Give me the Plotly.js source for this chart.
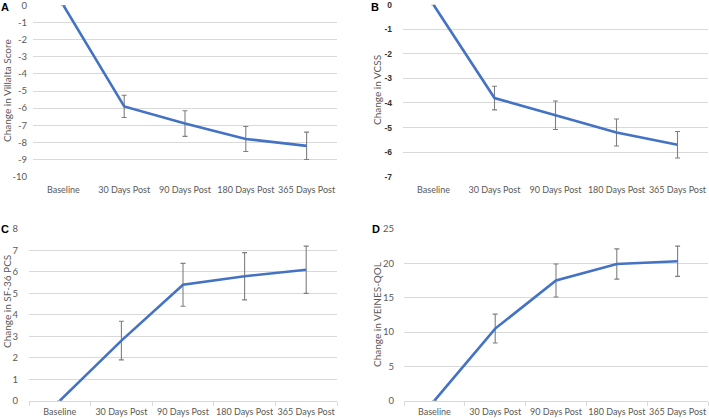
<!DOCTYPE html>
<html>
<head>
<meta charset="utf-8">
<script src="https://cdn.plot.ly/plotly-3.0.1.min.js"></script>
<style>html,body{margin:0;padding:0;background:#fff;}#chart{width:709px;height:418px;}</style>
</head>
<body>
<div id="chart"></div>
<script>
const categories = ["Baseline", "30 Days Post", "90 Days Post", "180 Days Post", "365 Days Post"];

const villaltaValues = [0, -5.9, -6.9, -7.8, -8.2];
const villaltaErrors = [0, 0.65, 0.75, 0.73, 0.8];
const villaltaTicks = [0, -1, -2, -3, -4, -5, -6, -7, -8, -9, -10];
const villaltaTickText = ["0", "-1", "-2", "-3", "-4", "-5", "-6", "-7", "-8", "-9", "-10"];

const vcssValues = [0, -3.8, -4.5, -5.2, -5.7];
const vcssErrors = [0, 0.48, 0.58, 0.55, 0.54];
const vcssTicks = [0, -1, -2, -3, -4, -5, -6, -7];
const vcssTickText = ["0", "-1", "-2", "-3", "-4", "-5", "-6", "-7"];

const sf36Values = [0, 2.8, 5.4, 5.8, 6.1];
const sf36Errors = [0, 0.9, 1.0, 1.1, 1.1];
const sf36Ticks = [0, 1, 2, 3, 4, 5, 6, 7, 8];

const veinesValues = [0, 10.5, 17.5, 19.9, 20.3];
const veinesErrors = [0, 2.1, 2.4, 2.2, 2.2];
const veinesTicks = [0, 5, 10, 15, 20, 25];

const W = 709, H = 418;
const px = v => v / W;
const py = v => 1 - v / H;

const FONT = "Lato, 'Open Sans', sans-serif";
const TICKCOL = "#595959";
const GRID = "#d9d9d9";
const LINE = "#4472C4";

function trace(vals, errs, xa, ya) {
  return {
    x: categories, y: vals, xaxis: xa, yaxis: ya,
    type: "scatter", mode: "lines",
    line: {color: LINE, width: 2.6},
    cliponaxis: false,
    error_y: {type: "data", array: errs, visible: true, color: "#7f7f7f", thickness: 1.1, width: 2.5},
    hoverinfo: "skip", showlegend: false
  };
}

const data = [
  trace(villaltaValues, villaltaErrors, "x", "y"),
  trace(vcssValues, vcssErrors, "x2", "y2"),
  trace(sf36Values, sf36Errors, "x3", "y3"),
  trace(veinesValues, veinesErrors, "x4", "y4")
];

function xax(l, r, anchor, showline) {
  return {
    domain: [px(l), px(r)], anchor: anchor, type: "category",
    range: [-0.5, 4.5], showgrid: false, zeroline: false,
    showline: showline, linecolor: GRID, linewidth: 1,
    ticks: showline ? "outside" : "", tickson: "boundaries", ticklen: 4, tickcolor: GRID,
    tickangle: 0, automargin: false, ticklabeloverflow: "allow",
    tickfont: {family: FONT, size: 9, color: TICKCOL},
    ticklabelstandoff: showline ? 2 : 6, fixedrange: true
  };
}
function yax(top, bot, range, vals, text, anchor, standoff, bold) {
  return {
    domain: [py(bot), py(top)], anchor: anchor, range: range,
    tickmode: "array", tickvals: vals, ticktext: text || vals.map(String),
    showgrid: true, gridcolor: GRID, gridwidth: 1, zeroline: false, showline: false,
    automargin: false, ticklabeloverflow: "allow",
    ticks: "", tickfont: {family: bold ? "Liberation Sans, Arial, sans-serif" : FONT, size: bold ? 8.5 : 9.5, color: bold ? "#333" : TICKCOL, weight: bold ? "bold" : "normal"},
    ticklabelstandoff: standoff, fixedrange: true
  };
}

function topAxis(l, r, anchor, over) {
  return {domain: [px(l), px(r)], anchor: anchor, overlaying: over, side: "top", type: "category", range: [-0.5, 4.5],
    showgrid: false, zeroline: false, showline: true, linecolor: GRID, ticks: "outside", tickson: "boundaries",
    ticklen: 3, tickcolor: GRID, showticklabels: false, fixedrange: true};
}

const letterFont = {family: "Liberation Sans, Arial, sans-serif", size: 11, color: "#000"};
const titleFont = {family: FONT, size: 10, color: TICKCOL};

function ann(text, x, y, font, angle) {
  return {text: text, x: px(x), y: py(y), xref: "paper", yref: "paper", xanchor: "center", yanchor: "middle",
    showarrow: false, textangle: angle || 0, font: font};
}

const layout = {
  width: W, height: H,
  margin: {l: 0, r: 0, t: 0, b: 0},
  paper_bgcolor: "#fff", plot_bgcolor: "#fff",
  showlegend: false,
  xaxis: xax(33, 337, "y", false),
  yaxis: yax(5.3, 176.7, [-10, 0], villaltaTicks, villaltaTickText, "x", 5, false),
  xaxis2: xax(403, 708, "y2", false),
  yaxis2: yax(4.7, 176.7, [-7, 0], vcssTicks, vcssTickText, "x2", 10, true),
  xaxis3: xax(29, 337, "y3", true),
  yaxis3: yax(229, 400.7, [0, 8], sf36Ticks, null, "x3", 10, false),
  xaxis4: xax(404, 708, "y4", true),
  yaxis4: yax(229, 400.7, [0, 25], veinesTicks, null, "x4", 9, false),
  xaxis5: topAxis(33, 337, "y", "x"),
  xaxis6: topAxis(403, 708, "y2", "x2"),
  annotations: [
    ann("<b>A</b>", 5, 7, letterFont),
    ann("<b>B</b>", 375, 7, letterFont),
    ann("<b>C</b>", 5, 229, letterFont),
    ann("<b>D</b>", 376, 229, letterFont),
    ann("Change in Villalta Score", 7, 91, titleFont, -90),
    ann("Change in VCSS", 377, 90, titleFont, -90),
    ann("Change in SF-36 PCS", 7, 302, titleFont, -90),
    ann("Change in VEINES-QOL", 377, 314, titleFont, -90)
  ]
};

Plotly.newPlot("chart", data, layout, {displayModeBar: false, staticPlot: true});
</script>
</body>
</html>
